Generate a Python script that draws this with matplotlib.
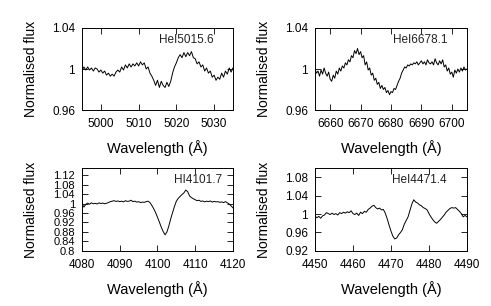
import numpy as np
import matplotlib
matplotlib.use("Agg")
import matplotlib.pyplot as plt
from matplotlib.ticker import FuncFormatter

plt.rcParams['font.family'] = ['Liberation Sans', 'DejaVu Sans']

# HeI 5015.6
wl_5015 = np.arange(4995, 5035.01, 0.5)
flux_5015 = [
    0.998, 1.002, 0.999, 1.002, 0.999, 1.001, 0.998, 1.001, 1.000, 0.997,
    0.999, 0.996, 0.998, 0.994, 0.996, 0.993, 0.995, 0.993, 0.997, 0.999,
    0.997, 1.002, 0.999, 1.004, 1.001, 1.005, 1.002, 1.005, 1.003, 1.006,
    1.003, 1.007, 1.004, 1.006, 1.000, 1.002, 0.996, 0.993, 0.989, 0.984,
    0.989, 0.982, 0.988, 0.984, 0.982, 0.987, 0.983, 0.988, 0.996, 1.002,
    1.006, 1.011, 1.014, 1.011, 1.016, 1.012, 1.016, 1.013, 1.017, 1.011,
    1.010, 1.005, 1.007, 1.002, 1.004, 0.998, 1.001, 0.996, 0.998, 0.992,
    0.994, 0.989, 0.992, 0.990, 0.996, 0.992, 0.998, 0.995, 1.001, 0.997,
    1.001,
]

# HeI 6678.1
wl_6678 = np.arange(6655, 6705.01, 0.5)
flux_6678 = [
    1.000, 0.996, 0.998, 0.993, 0.999, 0.995, 1.001, 0.996, 0.993, 0.997,
    0.990, 0.988, 0.994, 0.991, 0.998, 0.995, 1.001, 0.998, 1.003, 1.001,
    1.006, 1.004, 1.009, 1.007, 1.013, 1.011, 1.018, 1.015, 1.020, 1.014,
    1.017, 1.011, 1.013, 1.004, 1.007, 0.999, 1.001, 0.994, 0.996, 0.989,
    0.991, 0.985, 0.987, 0.981, 0.984, 0.980, 0.982, 0.977, 0.979, 0.975,
    0.978, 0.977, 0.981, 0.980, 0.984, 0.988, 0.991, 0.996, 0.999, 1.002,
    1.001, 1.004, 1.003, 1.005, 1.004, 1.006, 1.005, 1.007, 1.004, 1.006,
    1.008, 1.005, 1.007, 1.004, 1.009, 1.006, 1.005, 1.007, 1.004, 1.010,
    1.006, 1.004, 1.008, 1.005, 1.009, 1.002, 1.004, 0.998, 1.001, 0.995,
    0.997, 0.992, 0.999, 0.996, 1.000, 0.997, 1.001, 0.998, 1.002, 0.999,
    1.000,
]

# HI 4101.7
wl_4101 = np.arange(4080, 4120.01, 0.5)
flux_4101 = [
    1.000, 0.985, 0.996, 1.002, 0.997, 1.003, 0.999, 1.001, 0.998, 1.003,
    1.000, 1.002, 0.999, 1.001, 1.004, 1.008, 1.010, 1.012, 1.009, 1.011,
    1.008, 1.010, 1.007, 1.012, 1.009, 1.010, 1.014, 1.008, 1.010, 1.006,
    1.008, 1.004, 1.006, 1.005, 1.008, 1.010, 1.004, 0.992, 0.978, 0.962,
    0.942, 0.922, 0.900, 0.882, 0.868, 0.880, 0.905, 0.935, 0.962, 0.988,
    1.010, 1.022, 1.030, 1.038, 1.045, 1.057, 1.050, 1.032, 1.025, 1.020,
    1.016, 1.012, 1.014, 1.009, 1.011, 1.007, 1.010, 1.008, 1.011, 1.006,
    1.009, 1.007, 1.008, 1.005, 1.007, 1.004, 1.008, 1.003, 0.998, 0.990,
    0.982,
]

# HeI 4471.4
wl_4471 = np.arange(4450, 4490.01, 0.5)
flux_4471 = [
    0.996, 0.992, 0.995, 0.991, 0.996, 0.998, 1.003, 1.001, 0.999, 1.002,
    0.999, 1.001, 0.998, 1.003, 1.001, 1.004, 1.002, 1.005, 1.003, 1.007,
    1.001, 0.999, 1.002, 0.997, 1.004, 1.001, 1.006, 1.004, 1.010, 1.013,
    1.017, 1.019, 1.014, 1.011, 1.013, 1.009, 1.010, 1.002, 0.990, 0.976,
    0.963, 0.952, 0.946, 0.948, 0.955, 0.960, 0.966, 0.978, 0.986, 0.994,
    1.008, 1.022, 1.031, 1.026, 1.024, 1.020, 1.018, 1.014, 1.012, 1.009,
    1.001, 0.994, 0.988, 0.983, 0.980, 0.984, 0.988, 0.993, 0.998, 1.004,
    1.008, 1.012, 1.014, 1.013, 1.014, 1.010, 1.006, 1.001, 0.994, 0.997,
    0.994,
]

panels = [
    # wl, flux, label, xlim, ylim, xticks, yticks, rect, text x, ytick size
    (wl_5015, flux_5015, "HeI5015.6", (4995, 5035), (0.96, 1.04),
     [5000, 5010, 5020, 5030], [0.96, 1.0, 1.04],
     [0.167, 0.6405, 0.3075, 0.268], 0.87, 8.5),
    (wl_6678, flux_6678, "HeI6678.1", (6655, 6705), (0.96, 1.04),
     [6660, 6670, 6680, 6690, 6700], [0.96, 1.0, 1.04],
     [0.6415, 0.6405, 0.3096, 0.268], 0.87, 8.5),
    (wl_4101, flux_4101, "HI4101.7", (4080, 4120), (0.8, 1.15),
     [4080, 4090, 4100, 4110, 4120], np.arange(0.8, 1.121, 0.04),
     [0.167, 0.180, 0.3075, 0.271], 0.925, 8),
    (wl_4471, flux_4471, "HeI4471.4", (4450, 4490), (0.92, 1.1),
     [4450, 4460, 4470, 4480, 4490], [0.92, 0.96, 1.0, 1.04, 1.08],
     [0.6415, 0.180, 0.3096, 0.271], 0.866, 8.5),
]

fig = plt.figure(figsize=(4.91, 3.06), dpi=100)

for wl, flux, name, xlim, ylim, xt, yt, rect, tx, ysize in panels:
    ax = fig.add_axes(rect)
    ax.plot(wl, flux, color="black", lw=0.7)
    ax.set_xlim(*xlim)
    ax.set_ylim(*ylim)
    ax.set_xticks(xt)
    ax.set_yticks(yt)
    ax.yaxis.set_major_formatter(FuncFormatter(lambda v, p: "%g" % round(v, 2)))
    ax.tick_params(direction="in", top=True, right=True, length=4,
                   width=0.6, labelsize=8.5, pad=5)
    ax.tick_params(axis="x", pad=6)
    ax.tick_params(axis="y", labelsize=ysize)
    for s in ax.spines.values():
        s.set_linewidth(0.7)
    ax.text(tx, 0.85, name, transform=ax.transAxes, ha="right", va="center",
            fontsize=8.5, color="#222222")
    ax.set_xlabel("Wavelength (Å)", fontsize=10.5)
    ax.set_ylabel("Normalised flux", fontsize=10)
    ax.xaxis.set_label_coords(0.5, -0.36)
    ax.yaxis.set_label_coords(-0.29, 0.5)

fig.savefig("out.png", dpi=100)
